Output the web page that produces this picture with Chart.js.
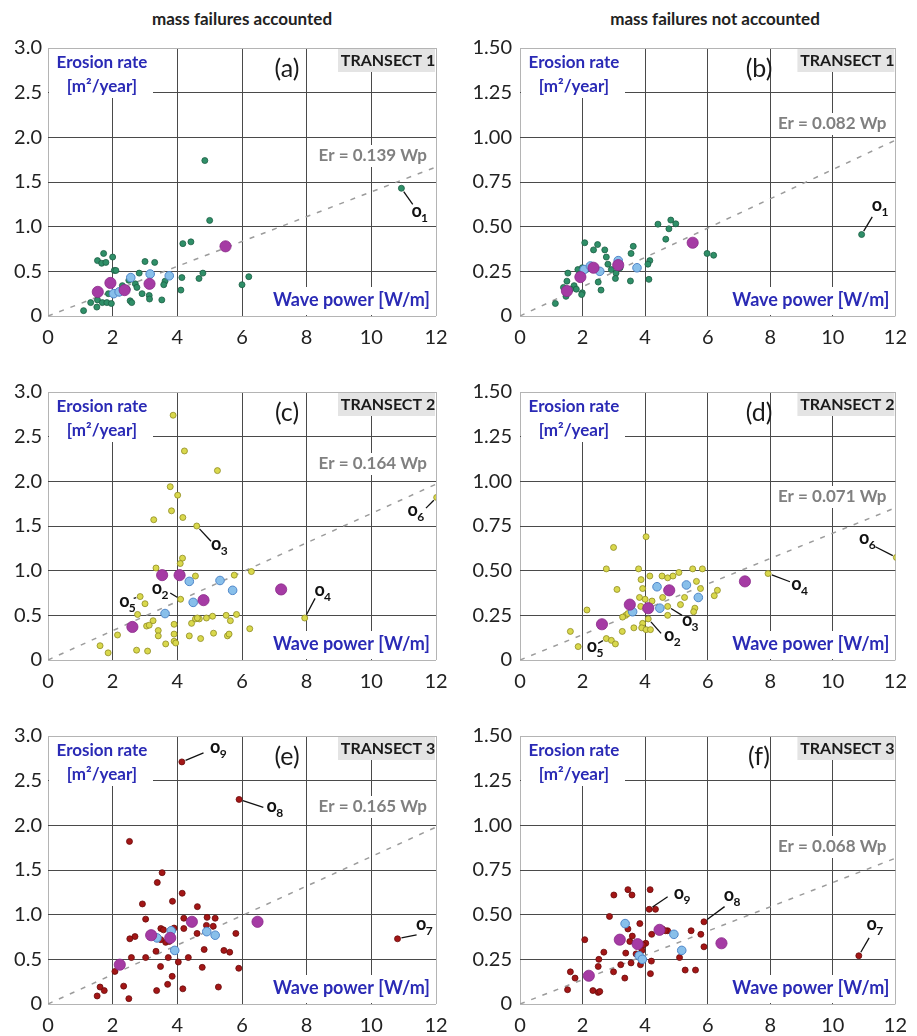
<!DOCTYPE html>
<html>
<head>
<meta charset="utf-8">
<script src="https://cdn.jsdelivr.net/npm/chart.js@4.4.1/dist/chart.umd.min.js"></script>
<style>
  html, body { margin: 0; padding: 0; background: #fff; }
  #fig { position: relative; width: 917px; height: 1036px; overflow: hidden; font-family: Lato, sans-serif; }
  .col-title { position: absolute; top: 8px; font: bold 17px Lato, sans-serif; color: #222; transform: translateX(-50%); white-space: nowrap; }
  canvas { position: absolute; }
</style>
</head>
<body>
<div id="fig">
  <div class="col-title" style="left:242px">mass failures accounted</div>
  <div class="col-title" style="left:715px">mass failures not accounted</div>
</div>
<script>
// ---- axis tick labels ----
const xTickLabels = ['0', '2', '4', '6', '8', '10', '12'];
const yTicksFull = ['0', '0.5', '1.0', '1.5', '2.0', '2.5', '3.0'];
const yTicksNet = ['0', '0.25', '0.50', '0.75', '1.00', '1.25', '1.50'];

// ---- fitted slopes Er = k * Wp ----
const slopeA = 0.139, slopeB = 0.082, slopeC = 0.164, slopeD = 0.071, slopeE = 0.165, slopeF = 0.068;

// ---- Transect 1, mass failures accounted: [wave power, erosion rate] ----
const t1FullPts = [[4.85,1.74],[5.0,1.07],[10.93,1.43],[4.17,0.81],[4.42,0.83],[6.21,0.44],[6.0,0.35],[4.79,0.48],[4.67,0.42],[4.14,0.43],[4.11,0.29],[3.52,0.18],[3.30,0.60],[3.0,0.61],[1.72,0.70],[1.53,0.62],[1.66,0.59],[1.79,0.60],[2.0,0.66],[2.05,0.51],[2.10,0.51],[2.82,0.48],[2.70,0.36],[2.75,0.32],[2.50,0.40],[3.62,0.39],[3.58,0.35],[2.91,0.25],[3.13,0.23],[3.14,0.19],[2.54,0.17],[2.59,0.15],[2.21,0.26],[1.87,0.25],[1.10,0.06],[1.32,0.15],[1.51,0.10],[1.53,0.18],[1.68,0.15],[1.82,0.15],[1.96,0.14],[2.30,0.34],[2.45,0.30]];
const t1FullMeanPts = [[2.56,0.43],[3.16,0.47],[3.75,0.45],[2.03,0.25],[2.20,0.27]];
const t1FullClassPts = [[1.54,0.27],[1.93,0.37],[2.37,0.29],[3.14,0.36],[5.49,0.78]];

// ---- Transect 1, mass failures not accounted ----
const t1NetPts = [[4.41,0.514],[4.82,0.537],[4.76,0.488],[4.98,0.516],[4.66,0.43],[5.98,0.35],[6.19,0.34],[2.07,0.41],[2.48,0.40],[3.62,0.39],[2.35,0.37],[2.71,0.37],[2.76,0.33],[3.55,0.35],[2.81,0.29],[4.15,0.31],[4.09,0.29],[2.92,0.26],[3.07,0.24],[3.05,0.21],[2.50,0.19],[2.59,0.145],[3.53,0.196],[4.12,0.205],[1.85,0.26],[1.99,0.27],[2.12,0.26],[1.53,0.24],[1.50,0.195],[1.73,0.17],[1.39,0.16],[1.99,0.13],[1.97,0.12],[1.47,0.11],[1.13,0.07],[1.80,0.15],[10.92,0.456],[2.25,0.27],[1.90,0.235],[3.20,0.27],[1.62,0.15]];
const t1NetMeanPts = [[3.74,0.27],[2.55,0.25],[3.14,0.31],[2.05,0.26],[2.25,0.28]];
const t1NetClassPts = [[1.50,0.14],[1.93,0.218],[2.35,0.27],[3.14,0.285],[5.52,0.41]];

// ---- Transect 2, mass failures accounted ----
const t2FullPts = [[3.87,2.74],[4.22,2.34],[5.24,2.12],[3.78,1.94],[4.01,1.845],[3.82,1.67],[3.27,1.57],[4.17,1.595],[4.60,1.50],[12.02,1.82],[4.16,1.14],[4.09,1.08],[3.34,1.03],[4.56,0.94],[5.76,0.95],[6.29,0.99],[4.10,0.68],[2.85,0.71],[3.0,0.63],[2.77,0.51],[4.56,0.46],[4.68,0.46],[4.90,0.47],[5.09,0.49],[5.51,0.50],[5.83,0.51],[3.90,0.40],[4.44,0.41],[5.64,0.44],[3.05,0.38],[3.13,0.39],[3.25,0.44],[3.41,0.33],[3.41,0.27],[3.90,0.29],[3.90,0.21],[3.95,0.19],[3.64,0.18],[4.37,0.27],[4.72,0.24],[5.12,0.30],[5.55,0.27],[5.60,0.29],[6.24,0.35],[2.15,0.28],[1.61,0.16],[1.86,0.08],[2.74,0.11],[3.08,0.10],[7.94,0.47],[4.62,0.47]];
const t2FullMeanPts = [[4.37,0.88],[5.32,0.89],[5.71,0.78],[4.49,0.645],[3.62,0.52]];
const t2FullClassPts = [[3.53,0.95],[4.07,0.95],[4.81,0.67],[2.61,0.37],[7.21,0.79]];

// ---- Transect 2, mass failures not accounted ----
const t2NetPts = [[4.03,0.69],[2.99,0.63],[12.03,0.574],[7.93,0.484],[2.76,0.51],[3.79,0.51],[4.15,0.47],[4.54,0.47],[4.72,0.46],[4.89,0.47],[5.08,0.49],[5.52,0.51],[5.83,0.51],[3.87,0.45],[5.64,0.44],[5.77,0.40],[6.31,0.39],[6.21,0.36],[3.10,0.395],[3.92,0.40],[3.82,0.35],[4.0,0.34],[4.22,0.33],[4.56,0.35],[5.26,0.35],[5.13,0.31],[5.59,0.29],[5.55,0.27],[3.86,0.30],[4.72,0.30],[3.38,0.25],[3.28,0.24],[3.92,0.205],[3.89,0.18],[4.03,0.17],[4.17,0.17],[3.64,0.18],[3.27,0.16],[4.10,0.23],[4.72,0.25],[2.14,0.28],[1.61,0.16],[1.86,0.075],[2.76,0.12],[2.92,0.11],[3.05,0.09],[3.45,0.26]];
const t2NetMeanPts = [[4.38,0.41],[5.32,0.42],[5.70,0.35],[4.47,0.29],[3.60,0.27]];
const t2NetClassPts = [[3.51,0.31],[4.10,0.29],[4.77,0.39],[2.62,0.20],[7.19,0.44]];

// ---- Transect 3, mass failures accounted ----
const t3FullPts = [[4.14,2.71],[5.91,2.29],[2.52,1.82],[3.53,1.47],[3.38,1.36],[4.15,1.24],[3.85,1.15],[2.92,1.12],[4.62,1.09],[10.81,0.73],[3.02,0.95],[4.20,0.96],[4.92,0.97],[5.17,0.96],[4.90,0.88],[5.11,0.87],[4.20,0.845],[3.49,0.845],[3.57,0.83],[4.61,0.79],[5.81,0.79],[2.69,0.755],[2.53,0.73],[3.49,0.72],[3.64,0.69],[4.83,0.61],[5.44,0.60],[5.62,0.58],[3.34,0.59],[3.72,0.52],[2.58,0.52],[3.02,0.52],[4.34,0.52],[4.03,0.47],[3.48,0.42],[4.77,0.41],[5.90,0.40],[2.07,0.365],[3.84,0.31],[2.34,0.20],[3.70,0.22],[1.61,0.19],[1.74,0.15],[1.52,0.09],[2.50,0.06],[3.36,0.15],[4.17,0.17],[5.27,0.19],[3.75,0.70],[3.90,0.85]];
const t3FullMeanPts = [[4.91,0.81],[5.17,0.77],[3.81,0.82],[3.37,0.74],[3.92,0.60]];
const t3FullClassPts = [[4.45,0.92],[6.48,0.92],[3.19,0.77],[3.78,0.74],[2.22,0.44]];

// ---- Transect 3, mass failures not accounted ----
const t3NetPts = [[10.83,0.27],[3.45,0.64],[4.16,0.64],[3.0,0.61],[3.58,0.61],[4.13,0.53],[4.33,0.53],[2.86,0.49],[5.88,0.46],[3.45,0.42],[3.83,0.45],[4.21,0.39],[4.72,0.41],[5.47,0.41],[5.78,0.39],[5.88,0.32],[2.07,0.36],[3.51,0.35],[3.59,0.38],[4.02,0.34],[3.94,0.33],[2.68,0.29],[3.38,0.285],[3.71,0.28],[2.52,0.25],[2.50,0.21],[3.22,0.22],[3.55,0.23],[2.99,0.18],[3.35,0.145],[4.17,0.17],[4.20,0.24],[5.10,0.26],[5.28,0.19],[5.61,0.19],[1.61,0.18],[1.76,0.145],[1.52,0.08],[2.33,0.075],[2.50,0.065],[2.55,0.07],[4.55,0.42],[4.65,0.41],[3.85,0.22],[3.90,0.30]];
const t3NetMeanPts = [[3.36,0.45],[4.92,0.39],[5.17,0.30],[3.81,0.27],[3.91,0.25]];
const t3NetClassPts = [[6.44,0.34],[4.46,0.415],[3.76,0.335],[3.19,0.36],[2.20,0.158]];

// ---- outlier annotations: id, point, leader end, label anchor (data units) ----
const outA = [['1',[10.93,1.43],[11.28,1.25],[11.40,1.15]]];
const outB = [['1',[10.92,0.456],[11.26,0.555],[11.41,0.61]]];
const outC = [['3',[4.60,1.50],[5.04,1.33],[5.20,1.27]],['6',[12.02,1.82],[11.69,1.70],[11.28,1.66]],['4',[7.94,0.47],[8.26,0.69],[8.40,0.76]],['2',[4.10,0.68],[3.78,0.75],[3.37,0.78]],['5',[2.85,0.71],[2.65,0.69],[2.36,0.64]]];
const outD = [['6',[12.03,0.574],[11.36,0.634],[11.0,0.67]],['4',[7.93,0.484],[8.63,0.438],[8.84,0.415]],['3',[4.72,0.30],[5.18,0.25],[5.34,0.214]],['2',[4.10,0.23],[4.51,0.149],[4.77,0.13]],['5',[2.76,0.12],[2.50,0.093],[2.30,0.065]]];
const outE = [['9',[4.14,2.71],[4.81,2.81],[5.17,2.85]],['8',[5.91,2.29],[6.66,2.20],[6.92,2.19]],['7',[10.81,0.73],[11.40,0.774],[11.54,0.867]]];
const outF = [['9',[4.13,0.53],[4.72,0.60],[5.08,0.61]],['8',[5.88,0.46],[6.54,0.545],[6.68,0.60]],['7',[10.83,0.27],[11.16,0.37],[11.24,0.434]]];

// ---- marker styles per transect ----
const styleT1 = { fill: '#2f8f68', edge: '#1c5e44' };
const styleT2 = { fill: '#d9d84c', edge: '#8f8c22' };
const styleT3 = { fill: '#a31616', edge: '#6a0b0b' };

const panels = [
  { tag: '(a)', transect: 'TRANSECT 1', col: 0, row: 0, ymax: 3.0, step: 0.5, yl: yTicksFull, k: slopeA, eqY: 108, small: t1FullPts, mean: t1FullMeanPts, cls: t1FullClassPts, st: styleT1, out: outA },
  { tag: '(b)', transect: 'TRANSECT 1', col: 1, row: 0, ymax: 1.5, step: 0.25, yl: yTicksNet, k: slopeB, eqY: 76, small: t1NetPts, mean: t1NetMeanPts, cls: t1NetClassPts, st: styleT1, out: outB },
  { tag: '(c)', transect: 'TRANSECT 2', col: 0, row: 1, ymax: 3.0, step: 0.5, yl: yTicksFull, k: slopeC, eqY: 72, small: t2FullPts, mean: t2FullMeanPts, cls: t2FullClassPts, st: styleT2, out: outC },
  { tag: '(d)', transect: 'TRANSECT 2', col: 1, row: 1, ymax: 1.5, step: 0.25, yl: yTicksNet, k: slopeD, eqY: 105, small: t2NetPts, mean: t2NetMeanPts, cls: t2NetClassPts, st: styleT2, out: outD },
  { tag: '(e)', transect: 'TRANSECT 3', col: 0, row: 2, ymax: 3.0, step: 0.5, yl: yTicksFull, k: slopeE, eqY: 71, small: t3FullPts, mean: t3FullMeanPts, cls: t3FullClassPts, st: styleT3, out: outE },
  { tag: '(f)', transect: 'TRANSECT 3', col: 1, row: 2, ymax: 1.5, step: 0.25, yl: yTicksNet, k: slopeF, eqY: 111, small: t3NetPts, mean: t3NetMeanPts, cls: t3NetClassPts, st: styleT3, out: outF }
];

// layout of the plotting boxes
const colGeom = [
  { cx: 0, cw: 460, left: 48, right: 436, ypad: 6 },
  { cx: 458, cw: 459, left: 520, right: 909, ypad: 8 }
];
const rowTop = [48, 392, 736];
const plotH = 268;
const padTop = 20, xAxisH = 45;

const BLUE = '#2a2ab5';
const FONT = 'Lato, sans-serif';

// annotation layer: label boxes, panel tag, fit equation, outlier call-outs
const decor = {
  id: 'decor',
  beforeDatasetsDraw(chart, args, o) {
    const { ctx, chartArea: { left: L, top: T, right: R, bottom: B } } = chart;
    ctx.save();
    // white boxes behind the axis captions
    ctx.fillStyle = '#fff';
    ctx.fillRect(L + 1, T + 1, 104, 49);
    ctx.fillRect(R - 165, B - 29, 164, 28);
    ctx.font = 'bold 17px ' + FONT;
    const eq = 'Er = ' + o.k.toFixed(3) + ' Wp';
    const w = ctx.measureText(eq).width;
    ctx.fillRect(R - 9 - w - 3, T + o.eqY - 11, w + 6, 22);
    // transect tab
    ctx.fillStyle = '#e4e4e4';
    ctx.fillRect(R - 98, T + 1, 97, 23);

    ctx.textBaseline = 'middle';
    ctx.fillStyle = '#808080';
    ctx.textAlign = 'right';
    ctx.fillText(eq, R - 9, T + o.eqY);

    ctx.fillStyle = '#1a1a1a';
    ctx.font = 'bold 16px ' + FONT;
    ctx.textAlign = 'center';
    ctx.fillText(o.transect, R - 48, T + 13);

    ctx.font = '25px ' + FONT;
    ctx.fillText(o.tag, L + 239, T + 21);

    ctx.fillStyle = BLUE;
    ctx.font = 'bold 17px ' + FONT;
    ctx.fillText('Erosion rate', L + 54, T + 15);
    ctx.fillText('[m\u00B2/year]', L + 54, T + 39);
    ctx.font = 'bold 18px ' + FONT;
    ctx.textAlign = 'right';
    ctx.fillText('Wave power [W/m]', R - 6, B - 16);
    ctx.restore();
  },
  afterDatasetsDraw(chart, args, o) {
    const { ctx } = chart;
    const xs = chart.scales.x, ys = chart.scales.y;
    ctx.save();
    ctx.strokeStyle = '#111';
    ctx.lineWidth = 1.3;
    ctx.fillStyle = '#111';
    ctx.textBaseline = 'middle';
    ctx.textAlign = 'center';
    o.out.forEach(([id, p, e, t]) => {
      const px = xs.getPixelForValue(p[0]), py = ys.getPixelForValue(p[1]);
      const ex = xs.getPixelForValue(e[0]), ey = ys.getPixelForValue(e[1]);
      const d = Math.hypot(ex - px, ey - py) || 1;
      ctx.beginPath();
      ctx.moveTo(px + (ex - px) * 4 / d, py + (ey - py) * 4 / d);
      ctx.lineTo(ex, ey);
      ctx.stroke();
      const tx = xs.getPixelForValue(t[0]), ty = ys.getPixelForValue(t[1]);
      ctx.font = 'bold 18px ' + FONT;
      ctx.fillText('o', tx, ty - 2);
      ctx.font = 'bold 12px ' + FONT;
      ctx.fillText(id, tx + 8, ty + 5);
    });
    ctx.restore();
  }
};

const toXY = arr => arr.map(([x, y]) => ({ x, y }));

panels.forEach(p => {
  const g = colGeom[p.col];
  const cv = document.createElement('canvas');
  const ch = padTop + plotH + xAxisH;
  cv.width = g.cw; cv.height = ch;
  cv.style.left = g.cx + 'px';
  cv.style.top = (rowTop[p.row] - padTop) + 'px';
  cv.style.width = g.cw + 'px'; cv.style.height = ch + 'px';
  document.getElementById('fig').appendChild(cv);

  const yAxisW = g.left - g.cx;
  const padRight = g.cw - (g.right - g.cx);
  const edgeGrid = (max) => (c) => (c.tick && (Math.abs(c.tick.value) < 1e-9 || Math.abs(c.tick.value - max) < 1e-9)) ? '#b4b4b4' : '#4a4a4a';

  new Chart(cv, {
    type: 'scatter',
    data: {
      datasets: [
        { data: toXY(p.cls), pointRadius: 5.6, backgroundColor: '#a53ba4', borderColor: '#8a2a89', borderWidth: 0.8, order: 0 },
        { data: toXY(p.mean), pointRadius: 4.3, backgroundColor: '#88bfea', borderColor: '#4f86c9', borderWidth: 1, order: 1 },
        { data: toXY(p.small), pointRadius: 3, backgroundColor: p.st.fill, borderColor: p.st.edge, borderWidth: 0.8, order: 2 },
        { data: [{ x: 0, y: 0 }, { x: 12, y: 12 * p.k }], showLine: true, pointRadius: 0, borderColor: '#9c9c9c', borderWidth: 1.5, borderDash: [5, 7], order: 3 }
      ]
    },
    options: {
      responsive: false,
      animation: false,
      events: [],
      devicePixelRatio: 1,
      layout: { padding: { left: 0, top: padTop, right: padRight, bottom: 0 } },
      plugins: {
        legend: { display: false },
        tooltip: { enabled: false },
        decor: { k: p.k, eqY: p.eqY, tag: p.tag, transect: p.transect, out: p.out }
      },
      scales: {
        x: {
          type: 'linear', min: 0, max: 12,
          afterFit: s => { s.height = xAxisH; },
          ticks: { stepSize: 2, padding: 10, color: '#222', font: { family: FONT, size: 20 },
                   callback: (v, i) => xTickLabels[i] },
          grid: { color: edgeGrid(12), lineWidth: 1, drawTicks: false },
          border: { display: false }
        },
        y: {
          type: 'linear', min: 0, max: p.ymax,
          afterFit: s => { s.width = yAxisW; },
          ticks: { stepSize: p.step, padding: g.ypad, color: '#222', font: { family: FONT, size: 20 },
                   callback: (v, i) => p.yl[i] },
          grid: { color: edgeGrid(p.ymax), lineWidth: 1, drawTicks: false },
          border: { display: false }
        }
      }
    },
    plugins: [decor]
  });
});
</script>
</body>
</html>
